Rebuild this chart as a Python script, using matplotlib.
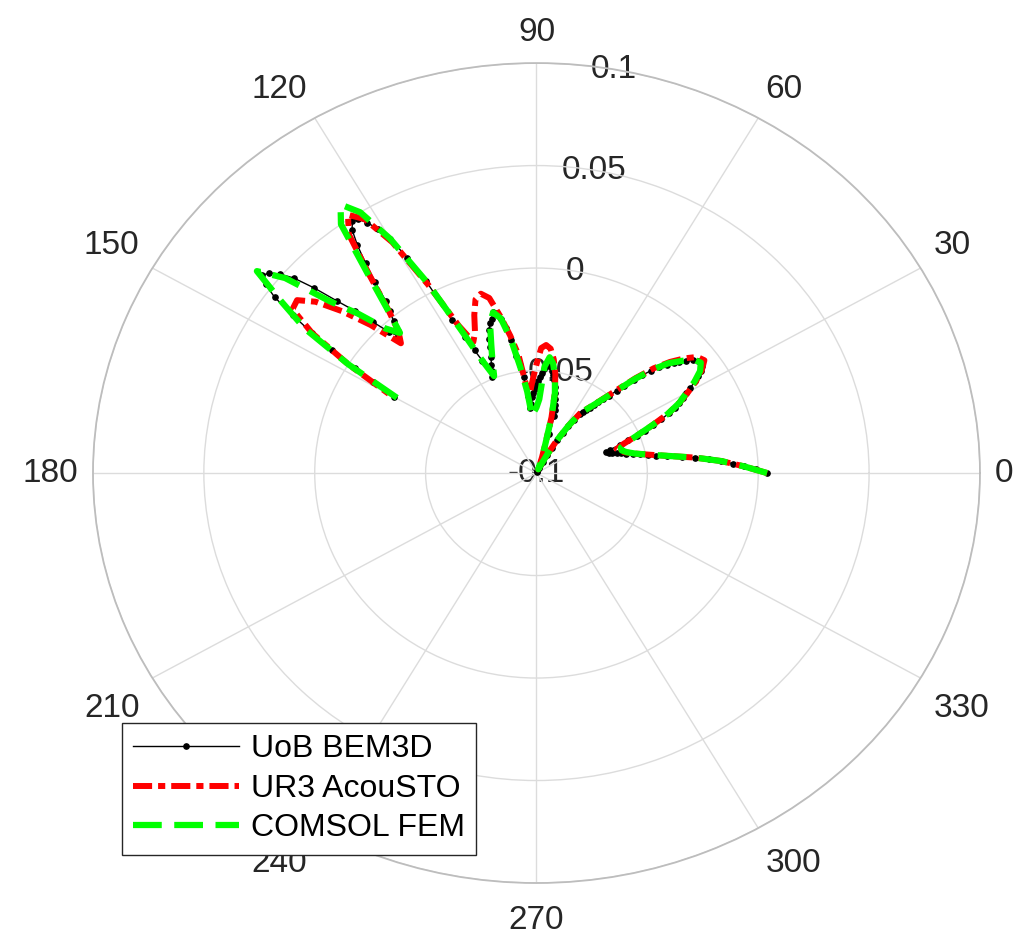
import numpy as np
import matplotlib.pyplot as plt
from matplotlib.transforms import ScaledTranslation

plt.rcParams['font.family'] = ['Liberation Sans', 'DejaVu Sans']

# DATA ______________________________________________________________________
# angles in degrees
theta_bem = np.arange(0, 151, 1)
theta_coarse = np.arange(0, 151, 2)

r_bem = [0.004, -0.001, -0.0064, -0.0114, -0.0164, -0.022, -0.028, -0.034, -0.0404, -0.0456,
         -0.049, -0.0524, -0.0556, -0.0584, -0.0606, -0.0626, -0.0644, -0.066, -0.0672, -0.065,
         -0.06, -0.0556, -0.0512, -0.047, -0.0426, -0.038, -0.0334, -0.03, -0.027, -0.0244,
         -0.022, -0.019, -0.0156, -0.013, -0.0106, -0.009, -0.0084, -0.009, -0.0106, -0.0134,
         -0.016, -0.018, -0.021, -0.0244, -0.028, -0.0324, -0.037, -0.042, -0.046, -0.05,
         -0.053, -0.0556, -0.058, -0.06, -0.062, -0.0636, -0.065, -0.069, -0.073, -0.077,
         -0.0816, -0.086, -0.09, -0.094, -0.097, -0.099, -0.0994, -0.099, -0.098, -0.097,
         -0.096, -0.094, -0.09, -0.08, -0.071, -0.068, -0.0656, -0.063, -0.06, -0.057,
         -0.054, -0.0516, -0.0496, -0.048, -0.047, -0.0476, -0.049, -0.051, -0.053, -0.055,
         -0.057, -0.059, -0.061, -0.063, -0.066, -0.068, -0.062, -0.053, -0.047, -0.042,
         -0.034, -0.028, -0.023, -0.02, -0.019, -0.022, -0.024, -0.027, -0.031, -0.035,
         -0.04, -0.0434, -0.0464, -0.049, -0.04, -0.034, -0.026, -0.016, 0.006, 0.02,
         0.032, 0.039, 0.044, 0.0476, 0.0484, 0.045, 0.0374, 0.028, 0.018, 0.008,
         0.003, -0.002, -0.007, -0.0084, -0.0044, 0.004, 0.014, 0.0232, 0.035, 0.045,
         0.051, 0.055, 0.0568, 0.053, 0.046, 0.034, 0.022, 0.01, -0.0034, -0.014,
         -0.026]

r_acousto = [0.004, -0.0064, -0.0164, -0.028, -0.04, -0.0484, -0.0544, -0.0584, -0.061, -0.062,
             -0.058, -0.051, -0.043, -0.034, -0.027, -0.021, -0.015, -0.01, -0.0064, -0.008,
             -0.013, -0.019, -0.0264, -0.0356, -0.045, -0.052, -0.0574, -0.0614, -0.065, -0.073,
             -0.0816, -0.09, -0.096, -0.098, -0.0976, -0.096, -0.092, -0.086, -0.072, -0.06,
             -0.051, -0.044, -0.039, -0.0374, -0.039, -0.047, -0.054, -0.06, -0.058, -0.042,
             -0.032, -0.022, -0.012, -0.009, -0.011, -0.018, -0.026, -0.03, -0.02, 0.004,
             0.03, 0.046, 0.052, 0.044, 0.022, 0.004, -0.007, -0.012, 0.004, 0.018,
             0.03, 0.037, 0.036, 0.022, 0.0, -0.024]

r_comsol = [0.004, -0.0064, -0.0164, -0.028, -0.04, -0.0484, -0.0544, -0.058, -0.06, -0.06,
            -0.057, -0.051, -0.043, -0.034, -0.027, -0.022, -0.016, -0.011, -0.0084, -0.01,
            -0.015, -0.02, -0.0276, -0.0364, -0.0456, -0.0524, -0.0576, -0.0616, -0.065, -0.073,
            -0.0816, -0.09, -0.096, -0.098, -0.0976, -0.096, -0.092, -0.086, -0.072, -0.06,
            -0.052, -0.046, -0.0432, -0.048, -0.064, -0.068, -0.07, -0.0724, -0.06, -0.048,
            -0.034, -0.023, -0.0192, -0.024, -0.034, -0.042, -0.049, -0.04, -0.022, 0.006,
            0.032, 0.05, 0.058, 0.05, 0.024, 0.005, -0.008, -0.002, 0.012, 0.025,
            0.048, 0.06, 0.042, 0.026, 0.0, -0.03]

series_names = ['UoB BEM3D', 'UR3 AcouSTO', 'COMSOL FEM']
r_ticks = [-0.1, -0.05, 0, 0.05, 0.1]
r_ticklabels = ['-0.1', '-0.05', '0', '0.05', '0.1']
theta_ticks = np.arange(0, 360, 30)
rlabel_angle = 80
# ____________________________________________________________________________

txt_col = '#262626'
fs = 24

fig = plt.figure(figsize=(10.24, 9.44), dpi=100)
ax = fig.add_axes([0.0908, 0.0646, 0.8662, 0.8686], projection='polar')
ax.set_aspect('auto')  # the original is stretched horizontally

ax.plot(np.deg2rad(theta_bem), r_bem, '-o', color='k', linewidth=1.0,
        markersize=3.8, label=series_names[0], zorder=3)
ax.plot(np.deg2rad(theta_coarse), r_acousto, color='red', linewidth=4.3,
        linestyle=(0, (3.2, 1.0, 1.2, 1.0)), label=series_names[1], zorder=4)
ax.plot(np.deg2rad(theta_coarse), r_comsol, color='#00ff00', linewidth=4.5,
        linestyle=(0, (4.6, 2.0)), label=series_names[2], zorder=5)

ax.set_ylim(-0.1, 0.1)
ax.set_yticks(r_ticks)
ax.set_yticklabels([])
ax.set_xticks(np.deg2rad(theta_ticks))
ax.set_xticklabels([])
ax.grid(True, color='#dcdcdc', linewidth=1.0)
ax.spines['polar'].set_color('#bdbdbd')
ax.spines['polar'].set_linewidth(1.3)

# angle labels, anchored outside the rim like MATLAB does
pad = 0.15  # inches
for t in theta_ticks:
    c, s = np.cos(np.deg2rad(t)), np.sin(np.deg2rad(t))
    ha = 'left' if c > 0.1 else ('right' if c < -0.1 else 'center')
    va = 'bottom' if s > 0.1 else ('top' if s < -0.1 else 'center')
    dy = pad * s - (0.07 if s < -0.1 else 0.0)
    trans = ax.transData + ScaledTranslation(pad * c, dy, fig.dpi_scale_trans)
    ax.text(np.deg2rad(t), 0.1, str(t), transform=trans, ha=ha, va=va,
            fontsize=fs, color=txt_col, clip_on=False)

for r, lab in zip(r_ticks, r_ticklabels):
    ax.text(np.deg2rad(rlabel_angle), r, lab, ha='center', va='center',
            fontsize=fs, color=txt_col, zorder=1.5)

leg = ax.legend(loc='upper left', bbox_to_anchor=(122 / 1024, 1 - 723 / 944),
                bbox_transform=fig.transFigure, fancybox=False, fontsize=23,
                handlelength=3.3, handletextpad=0.38, labelspacing=0.3,
                borderaxespad=0, borderpad=0.35, framealpha=1)
leg.get_frame().set_edgecolor(txt_col)
leg.get_frame().set_linewidth(1.0)

fig.savefig('out.png', dpi=100)
